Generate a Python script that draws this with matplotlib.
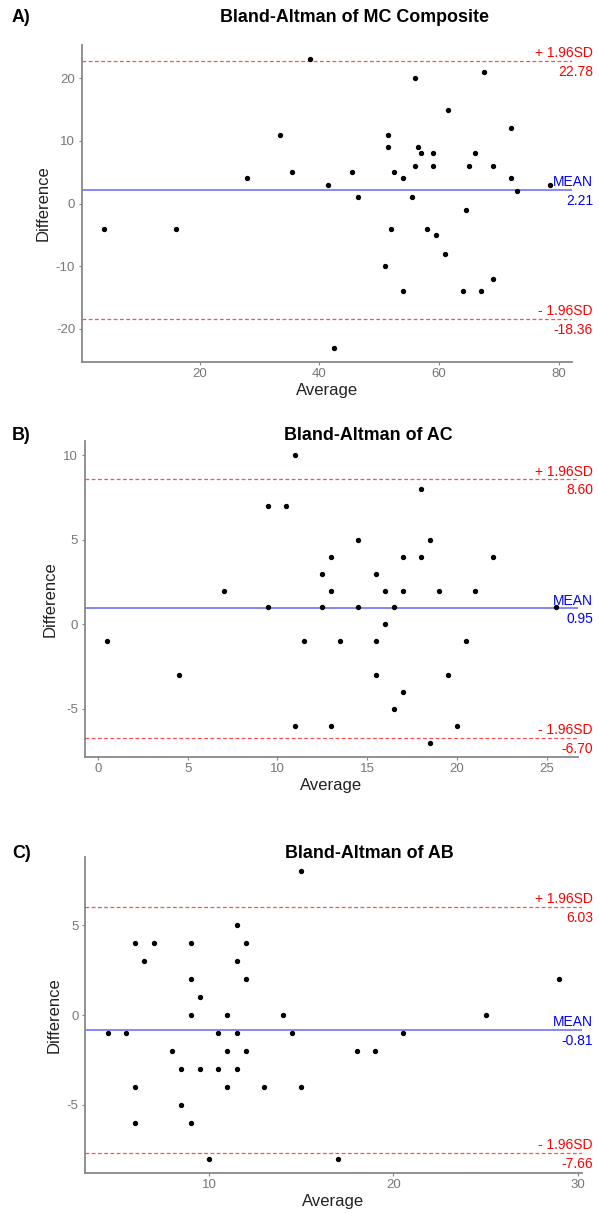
import matplotlib
matplotlib.use("Agg")
import matplotlib.pyplot as plt

plt.rcParams['font.family'] = ['Liberation Sans', 'DejaVu Sans']
plt.rcParams['axes.unicode_minus'] = False

# ---- Panel A: MC Composite ----
mc_avg = [38.5, 56, 67.5, 61.5, 33.5, 51.5, 51.5, 56.5, 57, 59, 66, 72, 56, 59, 65, 69,
          72, 28, 35.5, 45.5, 52.5, 54, 41.5, 78.5, 73, 46.5, 55.5, 4, 16, 52, 58, 59.5,
          64.5, 61, 51, 54, 64, 67, 69, 42.5]
mc_diff = [23, 20, 21, 15, 11, 11, 9, 9, 8, 8, 8, 12, 6, 6, 6, 6,
           4, 4, 5, 5, 5, 4, 3, 3, 2, 1, 1, -4, -4, -4, -4, -5,
           -1, -8, -10, -14, -14, -14, -12, -23]
mc_limits = [22.78, 2.21, -18.36]   # upper, mean, lower
mc_xticks = [20, 40, 60, 80]
mc_yticks = [-20, -10, 0, 10, 20]

# ---- Panel B: AC ----
ac_avg = [11, 9.5, 10.5, 18, 14.5, 18.5, 13, 17, 18, 22, 12.5, 15.5, 7, 13, 16, 17, 19, 21,
          9.5, 12.5, 14.5, 16.5, 25.5, 16, 0.5, 11.5, 13.5, 15.5, 20.5, 4.5, 15.5, 19.5,
          17, 16.5, 11, 13, 20, 18.5]
ac_diff = [10, 7, 7, 8, 5, 5, 4, 4, 4, 4, 3, 3, 2, 2, 2, 2, 2, 2,
           1, 1, 1, 1, 1, 0, -1, -1, -1, -1, -1, -3, -3, -3,
           -4, -5, -6, -6, -6, -7]
ac_limits = [8.60, 0.95, -6.70]
ac_xticks = [0, 5, 10, 15, 20, 25]
ac_yticks = [-5, 0, 5, 10]

# ---- Panel C: AB ----
ab_avg = [15, 11.5, 6, 7, 9, 12, 6.5, 11.5, 9, 12, 29, 9.5,
          9, 11, 14, 25, 4.5, 5.5, 10.5, 11.5, 14.5, 20.5, 8, 11, 12, 18, 19,
          8.5, 9.5, 10.5, 11.5, 6, 11, 13, 15, 8.5, 6, 9, 10, 17]
ab_diff = [8, 5, 4, 4, 4, 4, 3, 3, 2, 2, 2, 1,
           0, 0, 0, 0, -1, -1, -1, -1, -1, -1, -2, -2, -2, -2, -2,
           -3, -3, -3, -3, -4, -4, -4, -4, -5, -6, -6, -8, -8]
ab_limits = [6.03, -0.81, -7.66]
ab_xticks = [10, 20, 30]
ab_yticks = [-5, 0, 5]

panels = [
    ("A)", "Bland-Altman of MC Composite", mc_avg, mc_diff, mc_limits, mc_xticks, mc_yticks),
    ("B)", "Bland-Altman of AC", ac_avg, ac_diff, ac_limits, ac_xticks, ac_yticks),
    ("C)", "Bland-Altman of AB", ab_avg, ab_diff, ab_limits, ab_xticks, ab_yticks),
]

W, H = 599, 1213
# pixel boxes (left, right, top, bottom) and title centre for each panel
boxes = [(81.5, 572, 45, 362), (84.5, 578, 441, 757), (85, 582, 857, 1173)]
title_pos = [(354, 18), (368, 435), (369, 853)]

fig = plt.figure(figsize=(W / 100, H / 100), dpi=100)

for (tag, title, avg, diff, lims, xt, yt), (l, r, t, b), (tx, ty) in zip(panels, boxes, title_pos):
    ax = fig.add_axes([l / W, 1 - b / H, (r - l) / W, (b - t) / H])
    ax.scatter(avg, diff, s=8, color='black', zorder=3)

    upper, mean, lower = lims
    ax.axhline(upper, color='red', lw=0.9, ls=(0, (3, 2)), alpha=0.7)
    ax.axhline(lower, color='red', lw=0.9, ls=(0, (3, 2)), alpha=0.7)
    ax.axhline(mean, color='blue', lw=1.1, alpha=0.6)

    # labels sit to the right, hanging past the panel
    labels = [("+ 1.96SD", f"{upper:.2f}", upper, 'red'),
              ("MEAN", f"{mean:.2f}", mean, 'blue'),
              ("- 1.96SD", f"{lower:.2f}", lower, 'red')]
    for top_txt, val_txt, yv, col in labels:
        ax.annotate(top_txt, xy=(593 / W, yv), xycoords=('figure fraction', 'data'),
                    xytext=(0, 2.5), textcoords='offset points',
                    ha='right', va='baseline', color=col, fontsize=10, annotation_clip=False)
        ax.annotate(val_txt, xy=(593 / W, yv), xycoords=('figure fraction', 'data'),
                    xytext=(0, -3), textcoords='offset points',
                    ha='right', va='top', color=col, fontsize=10, annotation_clip=False)

    ax.set_xticks(xt)
    ax.set_yticks(yt)
    ax.set_xlabel("Average", fontsize=12, color='#222222', labelpad=2)
    ax.set_ylabel("Difference", fontsize=12, color='#222222', labelpad=4)
    for side in ['top', 'right']:
        ax.spines[side].set_visible(False)
    for side in ['left', 'bottom']:
        ax.spines[side].set_color('#888888')
        ax.spines[side].set_linewidth(1.3)
    ax.tick_params(length=2.5, width=0.8, color='#888888', labelcolor='#777777',
                   labelsize=9.5, pad=2)

    fig.text(tx / W, 1 - ty / H, title, ha='center', va='center',
             fontsize=12.9, fontweight='bold')
    fig.text(12 / W, 1 - ty / H, tag, ha='left', va='center',
             fontsize=12.9, fontweight='bold')

fig.savefig("out.png", dpi=100)
